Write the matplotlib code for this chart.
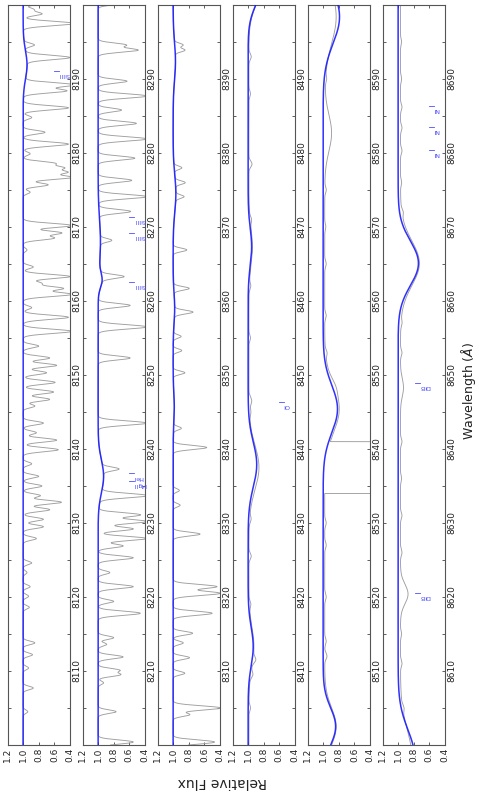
import numpy as np
import matplotlib
matplotlib.use('Agg')
import matplotlib.pyplot as plt
from matplotlib.ticker import MultipleLocator

# ---------------- data ----------------
panel_starts = [8100, 8200, 8300, 8400, 8500, 8600]
flux_ticks = [1.2, 1.0, 0.8, 0.6, 0.4]

# stellar model (blue): centre, depth, sigma
model_centers = [8191.9, 8236.3, 8262.8, 8268.0, 8345.5, 8359.0, 8374.5, 8392.4,
                 8413.3, 8437.9, 8467.3, 8502.5, 8545.4, 8598.4, 8665.1]
model_depths = [0.05, 0.07, 0.045, 0.03, 0.015, 0.02, 0.035, 0.03,
                0.065, 0.11, 0.045, 0.16, 0.184, 0.21, 0.26]
model_sigmas = [1.9, 2.2, 1.0, 3.0, 2.0, 2.0, 2.5, 2.5,
                2.6, 3.0, 2.5, 2.5, 3.2, 3.6, 3.0]

# telluric absorption lines in the observed spectrum (centre, minimum flux)
tell_centers = [
    8199.4, 8198.8, 8197.5, 8194.6, 8192.9, 8189.2, 8188.4, 8186.1, 8184.8, 8182.8,
    8181.2, 8179.9, 8178.6, 8178.0, 8177.4, 8176.7, 8175.7, 8174.7, 8170.2, 8169.2,
    8168.5, 8166.9, 8164.6, 8163.3, 8162.4, 8161.7, 8160.9, 8159.1, 8157.8, 8155.9,
    8153.9, 8152.3, 8151.3, 8150.3, 8149.0, 8147.7, 8146.7, 8145.8, 8143.5, 8142.2,
    8141.2, 8139.9, 8138.0, 8136.3, 8135.0, 8133.7, 8132.8, 8131.8, 8130.5, 8129.5,
    8127.9, 8124.6, 8123.3, 8121.4, 8120.1, 8118.6, 8113.8, 8112.2, 8110.4, 8107.7,
    8104.5,
    8294.6, 8293.9, 8289.7, 8287.7, 8285.8, 8284.0, 8281.9, 8279.3, 8276.3, 8274.1,
    8272.1, 8268.2, 8263.3, 8259.4, 8256.5, 8252.3, 8243.5, 8237.3, 8233.7, 8231.1,
    8230.2, 8229.2, 8227.9, 8226.9, 8225.3, 8223.3, 8221.4, 8219.4, 8217.8, 8214.5,
    8213.6, 8211.9, 8210.1, 8209.5, 8208.4, 8204.5, 8200.4,
    8394.6, 8393.9, 8378.0, 8376.0, 8374.1, 8366.9, 8361.7, 8358.5, 8355.2, 8353.3,
    8350.3, 8342.8, 8340.2, 8334.4, 8332.4, 8328.5, 8321.4, 8320.5, 8317.8, 8315.1,
    8313.8, 8311.8, 8309.7, 8305.0, 8304.1, 8300.4,
]
tell_minima = [
    0.87, 0.76, 0.35, 0.87, 0.42, 0.35, 0.45, 0.42, 0.89, 0.72,
    0.42, 0.91, 0.61, 0.51, 0.46, 0.38, 0.68, 0.91, 0.38, 0.51,
    0.61, 0.95, 0.87, 0.40, 0.78, 0.49, 0.38, 0.89, 0.42, 0.38,
    0.80, 0.66, 0.57, 0.70, 0.59, 0.61, 0.66, 0.85, 0.74, 0.83,
    0.57, 0.55, 0.89, 0.80, 0.76, 0.78, 0.51, 0.66, 0.74, 0.74,
    0.83, 0.89, 0.95, 0.91, 0.93, 0.92, 0.85, 0.88, 0.93, 0.87,
    0.94,
    0.65, 0.49, 0.63, 0.38, 0.70, 0.51, 0.38, 0.53, 0.57, 0.38,
    0.59, 0.85, 0.70, 0.59, 0.38, 0.59, 0.38, 0.78, 0.38, 0.46,
    0.38, 0.55, 0.38, 0.68, 0.55, 0.85, 0.55, 0.80, 0.46, 0.80,
    0.89, 0.68, 0.73, 0.72, 0.93, 0.77, 0.55,
    0.89, 0.87, 0.90, 0.87, 0.89, 0.825, 0.80, 0.76, 0.90, 0.89,
    0.85, 0.90, 0.57, 0.92, 0.91, 0.655, 0.44, 0.40, 0.50, 0.75,
    0.87, 0.79, 0.85, 0.39, 0.79, 0.47,
]

# observed spectrum (grey) in the red panels: broad features (centre, depth, sigma)
obs_centers = [8413.3, 8437.5, 8467.3, 8502.5, 8545.4, 8548.5, 8582.7, 8598.4,
               8620.4, 8648.3, 8665.1, 8446.5, 8445.0]
obs_depths = [0.065, 0.13, 0.045, 0.15, 0.19, 0.03, 0.09, 0.15,
              0.10, 0.04, 0.25, 0.035, 0.02]
obs_sigmas = [2.6, 3.0, 2.5, 2.5, 3.2, 1.0, 2.5, 3.6,
              1.3, 1.2, 3.0, 0.5, 0.5]
# small wiggles of the grey spectrum (centre, depth)
wig_centers = [8405.0, 8409.5, 8411.5, 8419.0, 8425.5, 8430.5, 8455.0, 8462.0, 8471.0,
               8478.5, 8488.0, 8493.0, 8512.0, 8514.0, 8520.0, 8527.0, 8530.0, 8553.0,
               8558.0, 8565.0, 8570.0, 8575.0, 8590.0, 8605.0, 8611.0, 8615.0, 8626.0,
               8631.0, 8636.0, 8641.0, 8653.0, 8657.0, 8672.0, 8676.0, 8680.3, 8683.4,
               8686.2, 8690.0, 8695.0]
wig_depths = [0.02, 0.03, 0.04, 0.02, 0.03, 0.02, 0.02, 0.02, 0.02,
              0.04, 0.02, 0.03, 0.03, 0.02, 0.02, 0.02, 0.02, 0.02,
              0.02, 0.02, 0.015, 0.02, 0.015, 0.02, 0.02, 0.015, 0.02,
              0.02, 0.015, 0.02, 0.02, 0.015, 0.02, 0.015, 0.02, 0.02,
              0.02, 0.015, 0.015]
obs_continuum = [1.0, 1.0, 1.0, 0.99, 0.98, 0.97]
gap_start, gap_end = 8534.0, 8541.0

# line identifications
line_names = ["SiIII", "SiIII", "SiIII", "SiIII", "HeI", "MgII", "OI",
              "DIB", "DIB", "NI", "NI", "NI"]
line_waves = [8191.1, 8271.4, 8269.2, 8262.6, 8236.7, 8235.7, 8446.4,
              8620.5, 8648.9, 8680.4, 8683.5, 8686.4]
line_flux = [0.61, 0.60, 0.60, 0.60, 0.61, 0.61, 0.61,
             0.79, 0.79, 0.61, 0.61, 0.61]


def absorb(wl, centers, depths, sigmas):
    f = np.ones_like(wl)
    for c, d, s in zip(centers, depths, sigmas):
        f *= 1 - d * np.exp(-0.5 * ((wl - c) / s) ** 2)
    return f


# ---------------- figure ----------------
W, H = 479, 792
fig = plt.figure(figsize=(W / 100, H / 100), dpi=100)

ax_w, ax_gap, ax_left0 = 62.5, 75.0, 7.5
ax_top, ax_bot = 5.0, 745.0

for i, base in enumerate(panel_starts):
    left = (ax_left0 + i * ax_gap) / W
    ax = fig.add_axes([left, 1 - ax_bot / H, ax_w / W, (ax_bot - ax_top) / H])
    wl = np.arange(base, base + 100.0001, 0.02)
    model = absorb(wl, model_centers, model_depths, model_sigmas)
    if base < 8400:
        tdep = [1 - m for m in tell_minima]
        tsig = [0.22 + 0.12 * (1 - m) for m in tell_minima]
        obs = model * absorb(wl, tell_centers, tdep, tsig)
    else:
        obs = obs_continuum[i] * absorb(wl, obs_centers, obs_depths, obs_sigmas)
        obs *= absorb(wl, wig_centers, wig_depths, [0.4] * len(wig_centers))
        obs[(wl > gap_start) & (wl < gap_end)] = 0.0

    ax.plot(obs, wl, color='#9e9e9e', lw=0.65, zorder=2)
    ax.plot(model, wl, color='#1a1aff', lw=1.1, alpha=0.9, zorder=3)

    for name, w0, f0 in zip(line_names, line_waves, line_flux):
        if base <= w0 < base + 100:
            ax.plot([f0, f0 - 0.065], [w0, w0], color='#4d4dff', lw=0.6, zorder=4)
            ax.text(f0 - 0.055, w0 - 0.15, name, rotation=180, fontsize=4.6,
                    color='#4d4dff', ha='left', va='top', zorder=4)

    ax.set_xlim(1.2, 0.4)
    ax.set_ylim(base, base + 100)
    ax.set_xticks(flux_ticks)
    ax.set_xticklabels([f"{t:.1f}" for t in flux_ticks], rotation=90)
    yt = list(range(base + 10, base + 100, 10))
    ax.set_yticks(yt)
    ax.set_yticklabels([str(t) for t in yt], rotation=90, va='center')
    ax.yaxis.set_minor_locator(MultipleLocator(5))
    ax.yaxis.tick_right()
    ax.tick_params(axis='both', which='both', direction='in', length=2.5, width=0.6,
                   top=True, bottom=True, left=True, right=True,
                   labelleft=False, labelright=True, labelsize=6.5,
                   labelcolor='#222222', color='#444444', pad=2)
    for sp in ax.spines.values():
        sp.set_color('#555555')
        sp.set_linewidth(0.8)

fig.text(222.5 / W, 1 - 782 / H, 'Relative Flux', rotation=180, fontsize=10,
         ha='center', va='center', color='#222222')
fig.text(468 / W, 1 - 391 / H, 'Wavelength ($\\AA$)', rotation=90, fontsize=9,
         ha='center', va='center', color='#222222')

fig.savefig('out.png', dpi=100)
